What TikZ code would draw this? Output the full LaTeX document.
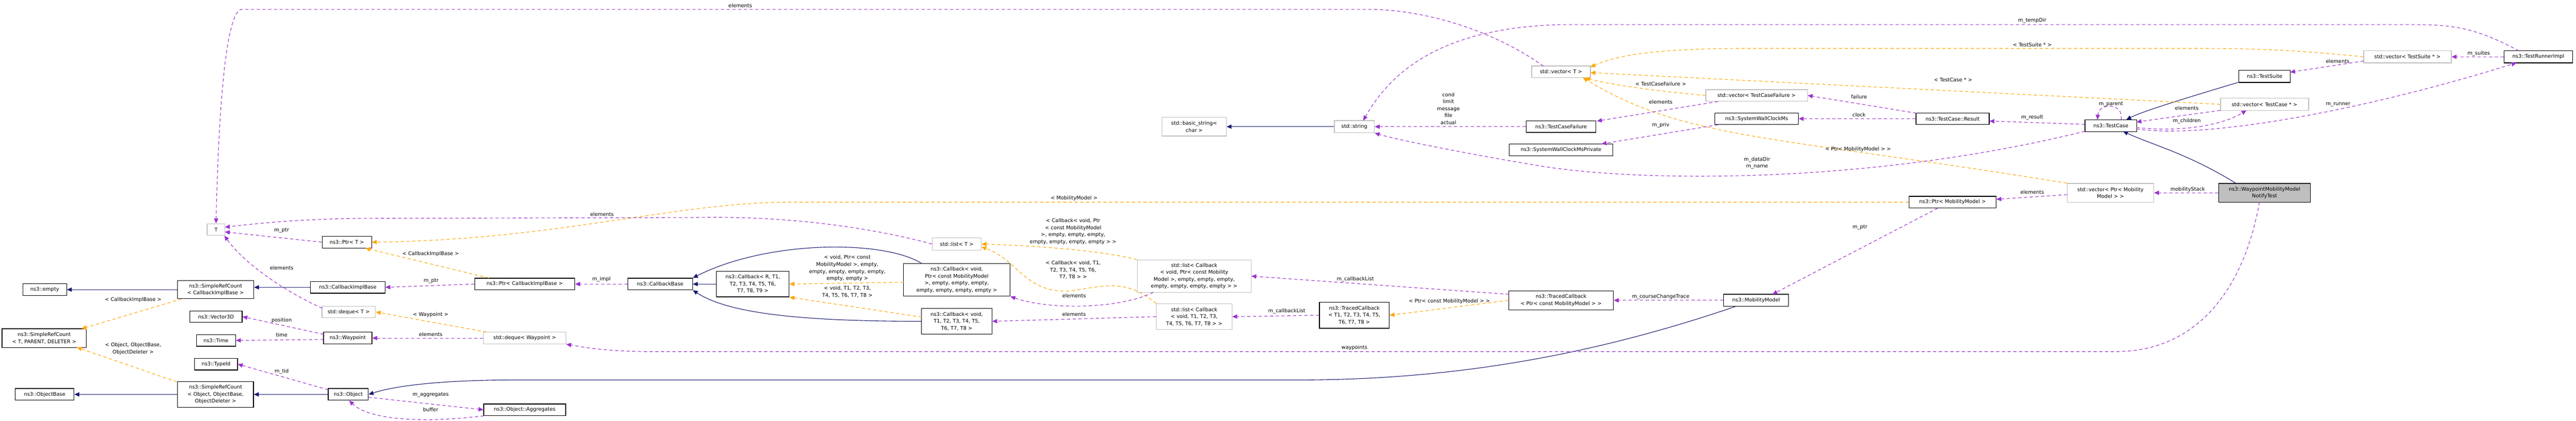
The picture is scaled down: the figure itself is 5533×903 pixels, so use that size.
\documentclass[tikz,border=0pt]{standalone}
\usepackage{fontspec}
\setmainfont{DejaVu Sans}
\usetikzlibrary{arrows.meta}
\newdimen\pxl \pxl=0.2845pt
\definecolor{inhc}{HTML}{191970}
\definecolor{usec}{HTML}{9A32CD}
\definecolor{tplc}{HTML}{FFA500}
\definecolor{grayb}{HTML}{BFBFBF}
\tikzset{
  x=0.01cm, y=-0.01cm,
  every node/.style={font=\fontsize{3.1}{4.27}\selectfont, inner sep=0pt, align=center},
  cls/.style={draw=black, line width=0.4pt, fill=white},
  ext/.style={draw=grayb, line width=0.4pt, fill=white},
  lbl/.style={},
  inh/.style={draw=inhc, line width=0.35pt, -{Triangle[length=3pt,width=2.6pt]}},
  tpl/.style={draw=tplc, line width=0.35pt, dash pattern=on 2pt off 1.5pt, -{Triangle[length=3pt,width=2.6pt]}},
  usg/.style={draw=usec, line width=0.35pt, dash pattern=on 2pt off 1.5pt, -{Triangle[length=3pt,width=2.6pt]}},
}
\newcommand\bx[7]{\node[#1, minimum width=#4*\pxl, minimum height=#5*\pxl] (#2) at (#3) {#6};}
\begin{document}
\begin{tikzpicture}
\useasboundingbox[fill=white] (0,0) rectangle (5533,903);
% nodes
\bx{ext}{T}{464,493}{38}{25}{T}{}
\bx{cls}{empty}{96,622}{94}{25}{ns3::empty}{}
\bx{cls}{srccib}{463,622}{164}{39}{ns3::SimpleRefCount\\< CallbackImplBase >}{}
\bx{cls}{srcT}{95,726}{181}{40}{ns3::SimpleRefCount\\< T, PARENT, DELETER >}{}
\bx{cls}{vec3}{464,680}{112}{25}{ns3::Vector3D}{}
\bx{cls}{time}{464,731}{84}{25}{ns3::Time}{}
\bx{cls}{typeid}{464,782}{92}{25}{ns3::TypeId}{}
\bx{cls}{objbase}{96,847}{126}{25}{ns3::ObjectBase}{}
\bx{cls}{srcobj}{463,847}{163}{55}{ns3::SimpleRefCount\\< Object, ObjectBase,\\ObjectDeleter >}{}
\bx{cls}{ptrT}{745,520}{106}{26}{ns3::Ptr< T >}{}
\bx{cls}{cib}{747,617}{160}{25}{ns3::CallbackImplBase}{}
\bx{cls}{ptrcib}{1127,610}{215}{25}{ns3::Ptr< CallbackImplBase >}{}
\bx{cls}{cbbase}{1418,610}{139}{25}{ns3::CallbackBase}{}
\bx{ext}{dequeT}{749,670}{115}{25}{std::deque< T >}{}
\bx{cls}{waypoint}{747,726}{104}{25}{ns3::Waypoint}{}
\bx{ext}{dequewp}{1127,726}{177}{25}{std::deque< Waypoint >}{}
\bx{cls}{object}{748,847}{86}{25}{ns3::Object}{}
\bx{cls}{aggr}{1127,880}{176}{25}{ns3::Object::Aggregates}{}
\bx{ext}{listT}{2055,524}{105}{26}{std::list< T >}{}
\bx{cls}{cbR}{1617,610}{156}{55}{ns3::Callback< R, T1,\\T2, T3, T4, T5, T6,\\T7, T8, T9 >}{}
\bx{cls}{cbPtr}{2055,601}{229}{70}{ns3::Callback< void,\\Ptr< const MobilityModel\\>, empty, empty, empty,\\empty, empty, empty, empty >}{}
\bx{cls}{cbT1}{2055,690}{151}{55}{ns3::Callback< void,\\T1, T2, T3, T4, T5,\\T6, T7, T8 >}{}
\bx{ext}{listPtr}{2565,593}{244}{70}{std::list< Callback\\< void, Ptr< const Mobility\\Model >, empty, empty, empty,\\empty, empty, empty, empty > >}{}
\bx{ext}{listT1}{2565,680}{162}{55}{std::list< Callback\\< void, T1, T2, T3,\\T4, T5, T6, T7, T8 > >}{}
\bx{cls}{tcT1}{2909,677}{150}{56}{ns3::TracedCallback\\< T1, T2, T3, T4, T5,\\T6, T7, T8 >}{}
\bx{cls}{tcPtr}{3353,645}{225}{41}{ns3::TracedCallback\\< Ptr< const MobilityModel > >}{}
\bx{cls}{ptrMM}{4194,434}{187}{25}{ns3::Ptr< MobilityModel >}{}
\bx{cls}{mm}{3772,645}{139}{26}{ns3::MobilityModel}{}
\bx{ext}{bstr}{2565,272}{138}{40}{std::basic\_string<\\char >}{}
\bx{ext}{str}{2909,272}{86}{26}{std::string}{}
\bx{ext}{vecT}{3353,154}{126}{25}{std::vector< T >}{}
\bx{ext}{vecTCF}{3773,205}{218}{25}{std::vector< TestCaseFailure >}{}
\bx{cls}{tcf}{3353,272}{150}{25}{ns3::TestCaseFailure}{}
\bx{cls}{swcm}{3773,255}{179}{25}{ns3::SystemWallClockMs}{}
\bx{cls}{swcmp}{3353,322}{222}{26}{ns3::SystemWallClockMsPrivate}{}
\bx{cls}{result}{4194,255}{157}{25}{ns3::TestCase::Result}{}
\bx{ext}{vecTS}{5171,122}{188}{26}{std::vector< TestSuite * >}{}
\bx{cls}{tri}{5452,122}{147}{26}{ns3::TestRunnerImpl}{}
\bx{cls}{suite}{4864,164}{110}{26}{ns3::TestSuite}{}
\bx{ext}{vecTC}{4864,224}{189}{26}{std::vector< TestCase * >}{}
\bx{cls}{tcase}{4534,270}{111}{25}{ns3::TestCase}{}
\bx{ext}{vecPMM}{4533,414}{186}{40}{std::vector< Ptr< Mobility\\Model > >}{}
\node[draw=black, line width=0.4pt, fill=grayb, minimum width=197*\pxl, minimum height=40*\pxl] (wmm) at (4864,414) {ns3::WaypointMobilityModel\\NotifyTest};
% inheritance
\draw[inh] (srccib.west) -- (empty.east);
\draw[inh] (cib.west) -- (srccib.east |- cib.west);
\draw[inh] (srcobj.west) -- (objbase.east);
\draw[inh] (object.west) -- (srcobj.east);
\draw[inh] (cbR.west) -- (cbbase.east);
\draw[inh] (1980,566) .. controls (1900,515) and (1650,515) .. (cbbase.north east);
\draw[inh] (cbT1.west) .. controls (1700,690) and (1560,670) .. (cbbase.south east);
\draw[inh] (3728,658) .. controls (3400,770) and (3100,816) .. (2785,816) -- (1108,816) .. controls (950,816) and (850,828) .. (object.east);
\draw[inh] (4807,177) .. controls (4680,215) and (4600,240) .. (4567,257);
\draw[inh] (4803,394) .. controls (4700,330) and (4620,310) .. (4560,282);
\draw[inh] (str.west) -- (bstr.east);
% template
\draw[tpl] (390,642) -- (175,706);
\draw[tpl] (380,820) -- (165,746);
\draw[tpl] (1050,597) -- (785,533);
\draw[tpl] (ptrMM.west) -- (1700,434) .. controls (1450,434) and (1200,515) .. (ptrT.east);
\draw[tpl] (1045,713) -- (dequeT.east);
\draw[tpl] (1941,606) -- (cbR.east);
\draw[tpl] (1980,681) -- (cbR.south east);
\draw[tpl] (listPtr.north west) .. controls (2350,535) and (2200,527) .. (listT.east);
\draw[tpl] (listT1.north west) .. controls (2420,600) and (2380,612) .. (2300,625) .. controls (2200,630) and (2190,560) .. (2108,530);
\draw[tpl] (tcPtr.west) -- (tcT1.east);
\draw[tpl] (vecTCF.west) .. controls (3550,195) and (3450,180) .. (3405,167);
\draw[tpl] (vecTS.west) .. controls (4900,104) and (4800,104) .. (4700,104) -- (3750,104) .. controls (3550,104) and (3470,120) .. (3416,144);
\draw[tpl] (vecTC.west) -- (3416,156);
\draw[tpl] (vecPMM.north west) .. controls (3800,290) and (3620,300) .. (3400,167);
% usage
\draw[usg] (ptrT.west) -- (483,498);
\draw[usg] (listT.west) .. controls (1800,470) and (1600,465) .. (1500,467) -- (800,469) .. controls (650,469) and (550,480) .. (483,488);
\draw[usg] (692,662) .. controls (600,620) and (520,560) .. (482,506);
\draw[usg] (3315,142) .. controls (3200,60) and (3050,20) .. (2938,20) -- (520,20) .. controls (480,20) and (468,300) .. (T.north);
\draw[usg] (695,718) -- (vec3.east);
\draw[usg] (695,729) -- (time.east);
\draw[usg] (705,837) -- (typeid.east);
\draw[usg] (ptrcib.west) -- (cib.east);
\draw[usg] (cbbase.west) -- (ptrcib.east);
\draw[usg] (dequewp.west) -- (waypoint.east);
\draw[usg] (791,853) -- (aggr.west);
\draw[usg] (1039,893) .. controls (900,910) and (790,900) .. (750,860);
\draw[usg] (2477,628) .. controls (2400,665) and (2250,665) .. (cbPtr.south east);
\draw[usg] (listT1.west) -- (cbT1.east);
\draw[usg] (3241,632) -- (listPtr.east);
\draw[usg] (tcT1.west) -- (listT1.east);
\draw[usg] (mm.west) -- (tcPtr.east |- mm.west);
\draw[usg] (4162,447) -- (3807,632);
\draw[usg] (4440,418) -- (4288,428);
\draw[usg] (wmm.west) -- (vecPMM.east);
\draw[usg] (4853,434) .. controls (4820,620) and (4720,755) .. (4544,755) -- (1400,755) .. controls (1300,755) and (1250,745) .. (dequewp.south east);
\draw[usg] (tcf.west) -- (str.east);
\draw[usg] (4478,282) .. controls (4000,400) and (3500,390) .. (3300,355) .. controls (3150,330) and (3000,300) .. (str.south east);
\draw[usg] (5410,109) .. controls (5300,50) and (5250,53) .. (5150,53) -- (3350,53) .. controls (3100,60) and (2990,150) .. (2928,259);
\draw[usg] (3690,218) -- (3430,260);
\draw[usg] (3690,268) -- (3440,309);
\draw[usg] (4116,243) -- (vecTCF.east);
\draw[usg] (result.west) -- (swcm.east);
\draw[usg] (4478,267) -- (4273,260);
\draw[usg] (4556,257) .. controls (4562,220) and (4508,220) .. (4505,257);
\draw[usg] (4769,237) -- (4589,262);
\draw[usg] (4589,274) .. controls (4700,285) and (4780,265) .. (4825,237);
\draw[usg] (4589,277) .. controls (4750,300) and (5100,230) .. (5405,135);
\draw[usg] (tri.west) -- (vecTS.east);
\draw[usg] (5077,131) -- (4919,155);
% labels
\node[lbl] (l1) at (286,644) {< CallbackImplBase >};
\node[lbl] (l2) at (286,749) {< Object, ObjectBase,\\ObjectDeleter >};
\node[lbl] (l3) at (605,495) {m\_ptr};
\node[lbl] (l4) at (605,575) {elements};
\node[lbl] (l5) at (605,688) {position};
\node[lbl] (l6) at (605,719) {time};
\node[lbl] (l7) at (605,798) {m\_tid};
\node[lbl] (l8) at (926,603) {m\_ptr};
\node[lbl] (l9) at (925,545) {< CallbackImplBase >};
\node[lbl] (l10) at (1292,600) {m\_impl};
\node[lbl] (l11) at (925,676) {< Waypoint >};
\node[lbl] (l12) at (925,718) {elements};
\node[lbl] (l13) at (925,848) {m\_aggregates};
\node[lbl] (l14) at (925,880) {buffer};
\node[lbl] (l15) at (1293,460) {elements};
\node[lbl] (l16) at (1590,12) {elements};
\node[lbl] (l17) at (1820,576) {< void, Ptr< const\\MobilityModel >, empty,\\empty, empty, empty, empty,\\empty, empty >};
\node[lbl] (l18) at (1820,627) {< void, T1, T2, T3,\\T4, T5, T6, T7, T8 >};
\node[lbl] (l19) at (2307,426) {< MobilityModel >};
\node[lbl] (l20) at (2305,497) {< Callback< void, Ptr\\< const MobilityModel\\>, empty, empty, empty,\\empty, empty, empty, empty > >};
\node[lbl] (l21) at (2305,580) {< Callback< void, T1,\\T2, T3, T4, T5, T6,\\T7, T8 > >};
\node[lbl] (l22) at (2307,635) {elements};
\node[lbl] (l23) at (2307,675) {elements};
\node[lbl] (l24) at (2909,747) {waypoints};
\node[lbl] (l25) at (2911,600) {m\_callbackList};
\node[lbl] (l26) at (2764,668) {m\_callbackList};
\node[lbl] (l27) at (3113,647) {< Ptr< const MobilityModel > >};
\node[lbl] (l28) at (3567,637) {m\_courseChangeTrace};
\node[lbl] (l29) at (3995,488) {m\_ptr};
\node[lbl] (l30) at (3111,233) {cond\\limit\\message\\file\\actual};
\node[lbl] (l31) at (4365,44) {m\_tempDir};
\node[lbl] (l32) at (4365,96) {< TestSuite * >};
\node[lbl] (l33) at (3567,180) {< TestCaseFailure >};
\node[lbl] (l34) at (3567,219) {elements};
\node[lbl] (l35) at (3993,208) {failure};
\node[lbl] (l36) at (3993,247) {clock};
\node[lbl] (l37) at (3567,269) {m\_priv};
\node[lbl] (l38) at (4195,171) {< TestCase * >};
\node[lbl] (l39) at (4365,252) {m\_result};
\node[lbl] (l40) at (3991,321) {< Ptr< MobilityModel > >};
\node[lbl] (l41) at (3774,350) {m\_dataDir\\m\_name};
\node[lbl] (l42) at (4365,413) {elements};
\node[lbl] (l43) at (5324,115) {m\_suites};
\node[lbl] (l44) at (5021,131) {elements};
\node[lbl] (l45) at (4534,224) {m\_parent};
\node[lbl] (l46) at (4697,232) {elements};
\node[lbl] (l47) at (4697,260) {m\_children};
\node[lbl] (l48) at (5022,224) {m\_runner};
\node[lbl] (l49) at (4699,407) {mobilityStack};
\end{tikzpicture}
\end{document}
